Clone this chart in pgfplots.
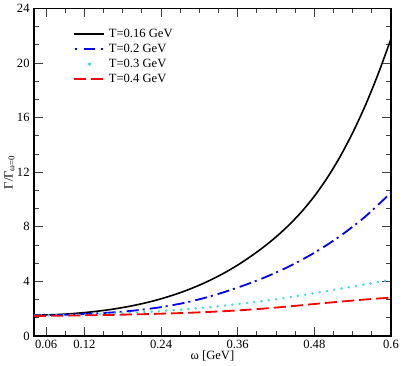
\documentclass[border=0pt]{standalone}
\usepackage{fontspec}
\setmainfont{Liberation Serif}
\usepackage{pgfplots}
\pgfplotsset{compat=1.18}
\definecolor{tq}{RGB}{64,224,208}
\begin{document}
\fontsize{12.5}{15}\selectfont
\begin{tikzpicture}
\begin{axis}[
  scale only axis,
  width=354pt, height=325pt,
  xmin=0.041, xmax=0.6, ymin=0, ymax=24,
  axis line style={line width=1.6pt},
  xtick={0.06,0.12,0.24,0.36,0.48,0.6},
  xticklabels={0.06,0.12,0.24,0.36,0.48,0.6},
  minor xtick={0.09,0.15,0.18,0.21,0.27,0.30,0.33,0.39,0.42,0.45,0.51,0.54,0.57},
  ytick={0,4,...,24},
  minor y tick num=2,
  tick align=inside,
  tick pos=both,
  major tick length=9pt,
  minor tick length=5pt,
  every tick/.style={black!75, line width=0.8pt},
  tick label style={font=\fontsize{12.5}{15}\selectfont},
  /pgf/number format/assume math mode=true,
  xlabel={ω [GeV]},
  ylabel={Γ/Γ\textsubscript{ω=0}},
  label style={font=\fontsize{12.5}{15}\selectfont},
  xlabel style={yshift=7pt},
  ylabel style={yshift=-6pt},
  legend style={draw=none, fill=none, at={(0.1,0.95)}, anchor=north west,
    font=\fontsize{12.5}{14}\selectfont, row sep=0.6pt,
    nodes={inner xsep=4pt}},
  legend cell align=left,
  legend image code/.code={\draw[#1] (0cm,0cm) -- (1.05cm,0cm);},
]
\addplot[black, line width=1.6pt, smooth,
  legend image code/.code={\draw[black, line width=1.6pt] (0cm,0) -- (1.05cm,0);}] coordinates {
(0.041,1.53) (0.06,1.55) (0.08,1.58) (0.10,1.64) (0.12,1.72) (0.14,1.82) (0.16,1.94) (0.18,2.09) (0.20,2.27) (0.22,2.48) (0.24,2.73) (0.26,3.02) (0.28,3.35) (0.30,3.73) (0.32,4.16) (0.34,4.65) (0.36,5.2) (0.38,5.82) (0.40,6.5) (0.42,7.26) (0.44,8.12) (0.46,9.10) (0.48,10.24) (0.50,11.57) (0.52,13.11) (0.54,14.88) (0.56,16.9) (0.58,19.2) (0.60,21.75)};
\addlegendentry{T=0.16 GeV}
\addplot[blue, line width=1.8pt, smooth, dash pattern=on 12pt off 4pt on 2pt off 5pt,
  legend image code/.code={\draw[blue, line width=1.8pt] (0.05cm,0) -- (0.12cm,0) (0.35cm,0) -- (0.75cm,0) (0.95cm,0) -- (1.02cm,0);}] coordinates {
(0.041,1.5) (0.08,1.55) (0.12,1.62) (0.16,1.72) (0.20,1.88) (0.24,2.12) (0.28,2.47) (0.32,2.95) (0.36,3.55) (0.40,4.25) (0.44,5.09) (0.48,6.10) (0.52,7.31) (0.56,8.76) (0.60,10.5)};
\addlegendentry{T=0.2 GeV}
\addplot[tq, line width=2.8pt, smooth, line cap=round, dash pattern=on 0pt off 7.3pt,
  legend image code/.code={\fill[tq] (0.52cm,0) circle (1.4pt);}] coordinates {
(0.041,1.5) (0.08,1.52) (0.12,1.56) (0.16,1.63) (0.2,1.72) (0.24,1.83) (0.28,1.97) (0.32,2.14) (0.36,2.34) (0.40,2.57) (0.44,2.84) (0.48,3.14) (0.52,3.46) (0.56,3.79) (0.6,4.13)};
\addlegendentry{T=0.3 GeV}
\addplot[red, line width=1.8pt, smooth, dash pattern=on 12pt off 5pt] coordinates {
(0.041,1.47) (0.08,1.49) (0.12,1.52) (0.16,1.55) (0.2,1.59) (0.24,1.64) (0.28,1.7) (0.32,1.78) (0.36,1.88) (0.4,2.01) (0.44,2.17) (0.48,2.35) (0.52,2.52) (0.56,2.68) (0.6,2.82)};
\addlegendentry{T=0.4 GeV}
\end{axis}
\end{tikzpicture}
\end{document}
